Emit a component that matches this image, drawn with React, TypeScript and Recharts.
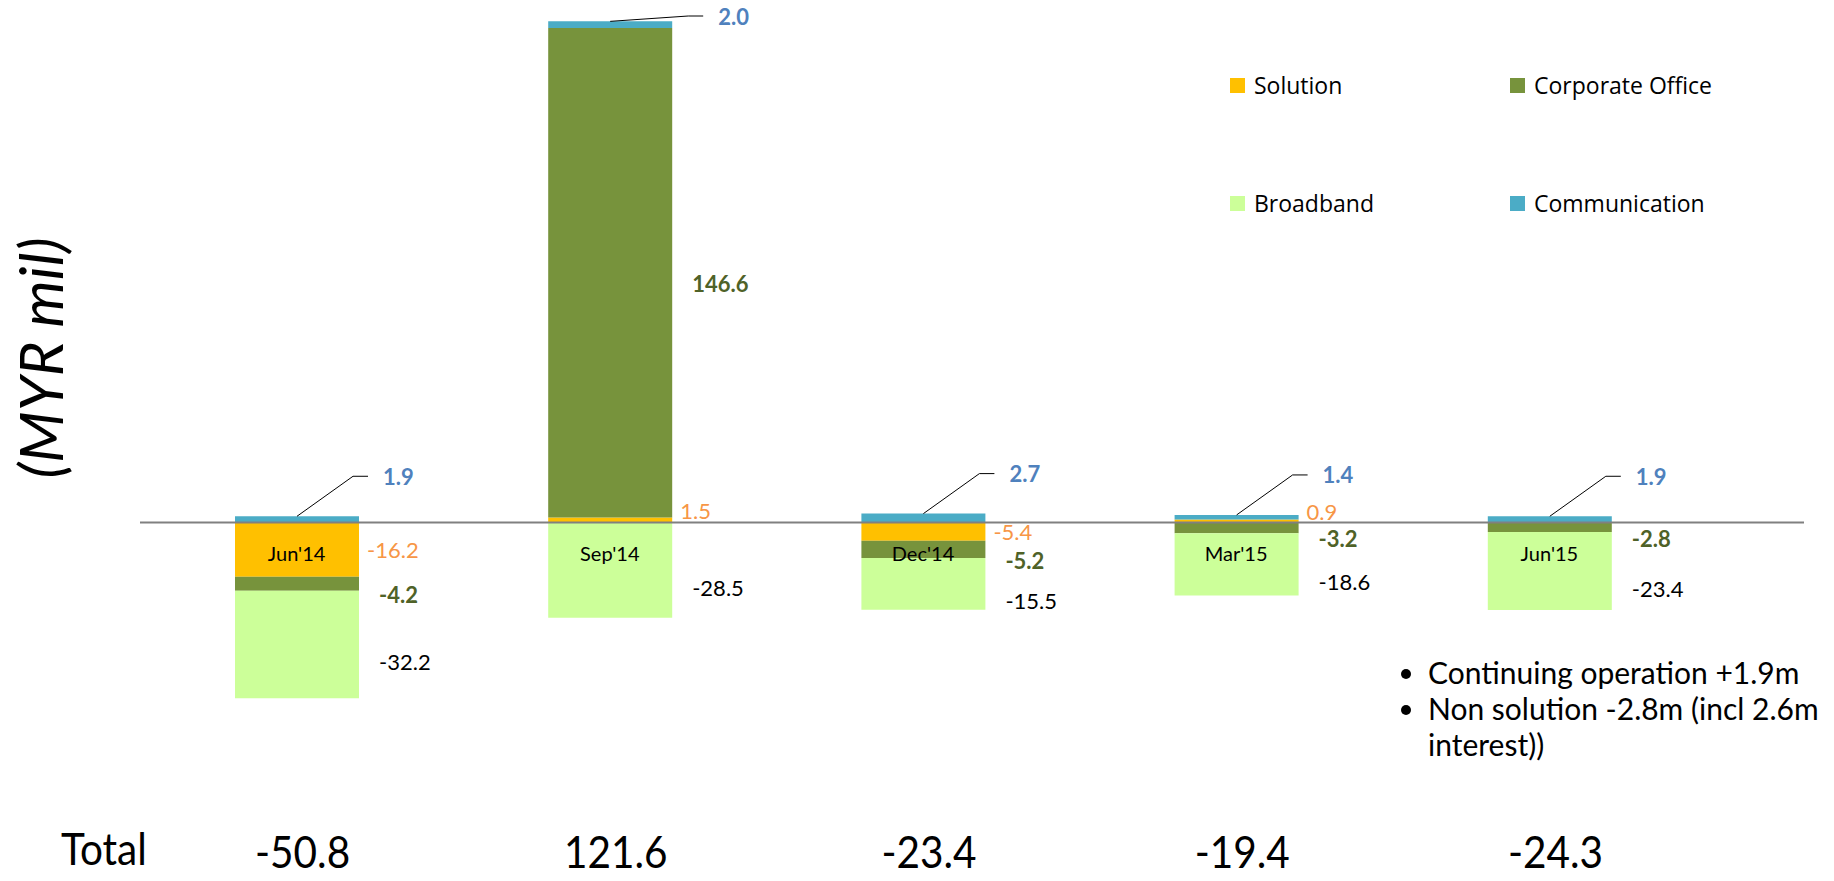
import React from 'react'
import {
    BarChart,
    Bar,
    XAxis,
    YAxis,
    ReferenceLine,
    ReferenceDot,
    LabelList,
    Legend,
} from 'recharts'

// quarters and segment results, MYR mil
const categories = ["Jun'14", "Sep'14", "Dec'14", "Mar'15", "Jun'15"]
const solution = [-16.2, 1.5, -5.4, 0.9, 0.0]
const corporate = [-4.2, 146.6, -5.2, -3.2, -2.8]
const broadband = [-32.2, -28.5, -15.5, -18.6, -23.4]
const communication = [1.9, 2.0, 2.7, 1.4, 1.9]
const totals = [-50.8, 121.6, -23.4, -19.4, -24.3]

const seriesNames = ['Solution', 'Corporate Office', 'Broadband', 'Communication']
const seriesColors = ['#FFC000', '#77933C', '#CCFF99', '#4BACC6']

const notes = ['Continuing operation +1.9m', 'Non solution -2.8m (incl 2.6m', 'interest))']

const data = categories.map((name, i) => ({
    name,
    solution: solution[i],
    corporate: corporate[i],
    broadband: broadband[i],
    communication: communication[i],
}))

const FONT = 'Lato, "Open Sans", sans-serif'

const box = (props: any) => props.viewBox ?? props

// value label to the right of a segment
const sideLabel = (values: number[], color: string, weight: number, dx: number, shift: (v: number) => number) =>
    (props: any) => {
        const { x, y, width, height } = box(props)
        const v = values[props.index]
        if (v === undefined) return null
        return (
            <text
                x={x + width + dx}
                y={y + height / 2 + shift(v)}
                fill={color}
                fontWeight={weight}
                fontSize={22}
                fontFamily={FONT}
                dominantBaseline="central"
            >
                {v.toFixed(1)}
            </text>
        )
    }

// communication labels sit up-right with a leader line
const CommLabel = (props: any) => {
    const { x, y, width, height } = box(props)
    const v = communication[props.index]
    if (v === undefined) return null
    const top = Math.min(y, y + height)
    const cx = x + width / 2
    const right = x + width
    const elbowY = Math.max(top - 40, 16)
    const elbowX = top - elbowY < 15 ? right + 16 : right - 6
    return (
        <g>
            <polyline
                points={`${cx},${top} ${elbowX},${elbowY} ${elbowX + 15},${elbowY}`}
                fill="none"
                stroke="#000"
                strokeWidth={1}
            />
            <text
                x={elbowX + 30}
                y={elbowY}
                fill="#4F81BD"
                fontWeight={700}
                fontSize={22}
                fontFamily={FONT}
                dominantBaseline="central"
            >
                {v.toFixed(1)}
            </text>
        </g>
    )
}

const CategoryLabel = (props: any) => {
    const { x, y, width, height } = box(props)
    return (
        <text
            x={x + (width || 0) / 2}
            y={y + (height || 0) + 29}
            textAnchor="middle"
            dominantBaseline="central"
            fontSize={20}
            fontFamily={FONT}
            fill="#000"
        >
            {props.value}
        </text>
    )
}

const TotalTick = (props: any) => {
    const { x, payload } = props
    const i = categories.indexOf(payload.value)
    return (
        <text
            transform={`translate(${x + 6},868) scale(0.9,1)`}
            textAnchor="middle"
            fontSize={45}
            fontFamily={FONT}
            fill="#000"
        >
            {totals[i].toFixed(1)}
        </text>
    )
}

const LegendContent = () => (
    <div
        style={{
            display: 'grid',
            gridTemplateColumns: '280px auto',
            rowGap: 88,
            fontFamily: '"Open Sans", sans-serif',
            fontSize: 23,
            color: '#000',
            whiteSpace: 'nowrap',
        }}
    >
        {seriesNames.map((n, i) => (
            <div key={n} style={{ display: 'flex', alignItems: 'center', height: 30 }}>
                <span style={{ width: 15, height: 15, background: seriesColors[i], marginRight: 9, flexShrink: 0 }} />
                {n}
            </div>
        ))}
    </div>
)

const App: React.FC = () => {
    return (
        <div style={{ position: 'absolute', left: 0, top: 0, width: 1834, height: 881, background: '#fff', fontFamily: FONT, overflow: 'hidden' }}>
            <BarChart
                width={1834}
                height={881}
                data={data}
                margin={{ top: 15, right: 30, left: 140, bottom: 0 }}
                stackOffset="sign"
                barSize={124}
            >
                <XAxis
                    dataKey="name"
                    height={158}
                    axisLine={false}
                    tickLine={false}
                    interval={0}
                    padding={{ left: 0, right: 98 }}
                    tick={TotalTick}
                />
                <YAxis hide domain={[-60, 152]} allowDataOverflow />

                <Legend
                    layout="horizontal"
                    verticalAlign="middle"
                    align="center"
                    wrapperStyle={{ left: 1230, top: 70, width: 580 }}
                    content={LegendContent}
                />

                <Bar dataKey="solution" name="Solution" stackId="s" fill={seriesColors[0]} isAnimationActive={false}>
                    <LabelList content={sideLabel(solution, '#F79646', 400, 8, v => (v >= 0 ? -10 : 0))} />
                </Bar>
                <Bar dataKey="corporate" name="Corporate Office" stackId="s" fill={seriesColors[1]} isAnimationActive={false}>
                    <LabelList content={sideLabel(corporate, '#4F6228', 700, 20, () => 11)} />
                </Bar>
                <Bar dataKey="broadband" name="Broadband" stackId="s" fill={seriesColors[2]} isAnimationActive={false}>
                    <LabelList content={sideLabel(broadband, '#000', 400, 20, () => 17)} />
                </Bar>
                <Bar dataKey="communication" name="Communication" stackId="s" fill={seriesColors[3]} isAnimationActive={false}>
                    <LabelList content={CommLabel} />
                </Bar>

                <ReferenceLine y={0} stroke="#808080" strokeWidth={2} />

                {categories.map(c => (
                    <ReferenceDot
                        key={c}
                        x={c}
                        y={0}
                        r={1}
                        fill="none"
                        stroke="none"
                        label={<CategoryLabel value={c} />}
                    />
                ))}
            </BarChart>

            <div
                style={{
                    position: 'absolute',
                    left: 40,
                    top: 358,
                    transform: 'translate(-50%, -50%) rotate(-90deg)',
                    fontStyle: 'italic',
                    fontSize: 60,
                    whiteSpace: 'nowrap',
                    fontFamily: FONT,
                }}
            >
                (MYR mil)
            </div>

            <div
                style={{
                    position: 'absolute',
                    left: 61,
                    top: 826,
                    fontSize: 45,
                    lineHeight: '45px',
                    transform: 'scale(0.9, 1)',
                    transformOrigin: 'left top',
                    fontFamily: FONT,
                }}
            >
                Total
            </div>

            <ul
                style={{
                    position: 'absolute',
                    left: 1386,
                    top: 654,
                    margin: 0,
                    paddingLeft: 42,
                    fontSize: 30,
                    lineHeight: '36px',
                    fontFamily: FONT,
                }}
            >
                <li>{notes[0]}</li>
                <li>
                    {notes[1]}
                    <br />
                    {notes[2]}
                </li>
            </ul>
        </div>
    )
}

export default App
